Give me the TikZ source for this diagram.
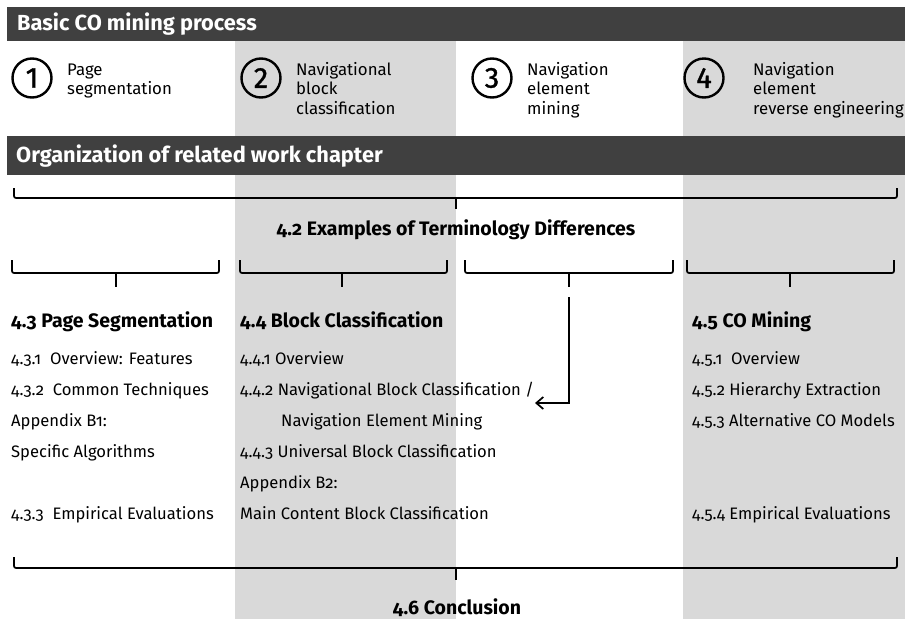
\documentclass[tikz,border=0pt]{standalone}
\usepackage{fontspec}
\setmainfont{Fira Sans}[Numbers=OldStyle]
\usetikzlibrary{arrows.meta}
\definecolor{barcol}{RGB}{64,64,64}
\definecolor{colgray}{RGB}{217,217,217}

\newcommand{\groupbrace}[6]{% x-left, x-right, x-tip, y-ends, y-line, y-tip
  \draw[brace] (#1,#4) -- (#1,#5) -- (#2,#5) -- (#2,#4);
  \draw[brace] (#3,#5) -- (#3,#6);
}

\begin{document}
\begin{tikzpicture}[x=1pt,y=-1pt,
  bartitle/.style={anchor=base west, text=white, inner sep=0, font=\fontsize{21.8}{24}\selectfont\bfseries},
  num/.style={circle, draw, line width=2.4pt, minimum size=39pt, inner sep=0,
    font=\fontsize{29}{29}\selectfont\mdseries\addfontfeature{Numbers=Lining,FakeBold=1.2}},
  steptext/.style={anchor=base west, inner sep=0, font=\fontsize{16.8}{20}\selectfont},
  head/.style={anchor=base west, inner sep=0, font=\fontsize{19.5}{22}\selectfont\bfseries},
  chead/.style={anchor=base, inner sep=0, font=\fontsize{19.5}{22}\selectfont\bfseries},
  item/.style={anchor=base west, inner sep=0, font=\fontsize{16.6}{20}\selectfont},
  brace/.style={line width=1.7pt, rounded corners=2pt},
  link/.style={line width=1.7pt, -{Straight Barb[length=7pt,width=12pt]}},
]
\useasboundingbox (0,0) rectangle (905,619);
\fill[white] (0,0) rectangle (905,619);

% alternating column shading and the two title bars
\fill[colgray] (235,41) rectangle (456,619);
\fill[colgray] (683,41) rectangle (905,619);
\fill[barcol] (7,7) rectangle (905,41);
\fill[barcol] (7,136) rectangle (905,175);

\node[bartitle] (t1) at (17,30) {Basic CO mining process};
\node[bartitle] (t2) at (16,162) {Organization of related work chapter};

% process steps
\node[num] (s1) at (32,78) {1};
\node[steptext] (s1a) at (67,75) {Page};
\node[steptext] (s1b) at (67,94.5) {segmentation};

\node[num] (s2) at (261,78) {2};
\node[steptext] (s2a) at (296,75) {Navigational};
\node[steptext] (s2b) at (296,94.5) {block};
\node[steptext] (s2c) at (296,114) {classification};

\node[num] (s3) at (492,78) {3};
\node[steptext] (s3a) at (527,75) {Navigation};
\node[steptext] (s3b) at (527,94.5) {element};
\node[steptext] (s3c) at (527,114) {mining};

\node[num] (s4) at (704,78) {4};
\node[steptext] (s4a) at (753,75) {Navigation};
\node[steptext] (s4b) at (753,94.5) {element};
\node[steptext] (s4c) at (753,114) {reverse engineering};

% chapter structure
\groupbrace{14}{897}{456}{188}{198}{209}
\node[chead] (h42) at (456,235) {4.2 Examples of Terminology Differences};

\groupbrace{12}{219}{116}{260}{273}{287}
\groupbrace{240}{447}{342}{260}{273}{287}
\groupbrace{465}{673}{569}{260}{273}{287}
\groupbrace{687}{894}{790}{260}{273}{287}

\node[head] (h43) at (11,327) {4.3 Page Segmentation};
\node[head] (h44) at (240,327) {4.4 Block Classification};
\node[head] (h45) at (692,327) {4.5 CO Mining};

\node[item] (i431) at (11,364) {4.3.1\ \ Overview: Features};
\node[item] (i432) at (11,395) {4.3.2\ \ Common Techniques};
\node[item] (ib1a) at (11,426) {Appendix B1:};
\node[item] (ib1b) at (11,457) {Specific Algorithms};
\node[item] (i433) at (11,519) {4.3.3\ \ Empirical Evaluations};

\node[item] (i441) at (240,364) {4.4.1 Overview};
\node[item] (i442) at (240,395) {4.4.2 Navigational Block Classification /};
\node[item] (i442b) at (281,426) {Navigation Element Mining};
\node[item] (i443) at (240,457) {4.4.3 Universal Block Classification};
\node[item] (ib2a) at (240,488) {Appendix B2:};
\node[item] (ib2b) at (240,519) {Main Content Block Classification};

\node[item] (i451) at (692,364) {4.5.1\ \ Overview};
\node[item] (i452) at (692,395) {4.5.2 Hierarchy Extraction};
\node[item] (i453) at (692,426) {4.5.3 Alternative CO Models};
\node[item] (i454) at (692,519) {4.5.4 Empirical Evaluations};

% navigation element mining feeds into 4.4.2
\coordinate (mfrom) at (569,297);
\coordinate (mto) at (535,403);
\draw[link] (mfrom) |- (mto);

\groupbrace{14}{897}{456}{557}{568}{580}
\node[chead] (h46) at (457,614) {4.6 Conclusion};
\end{tikzpicture}
\end{document}
